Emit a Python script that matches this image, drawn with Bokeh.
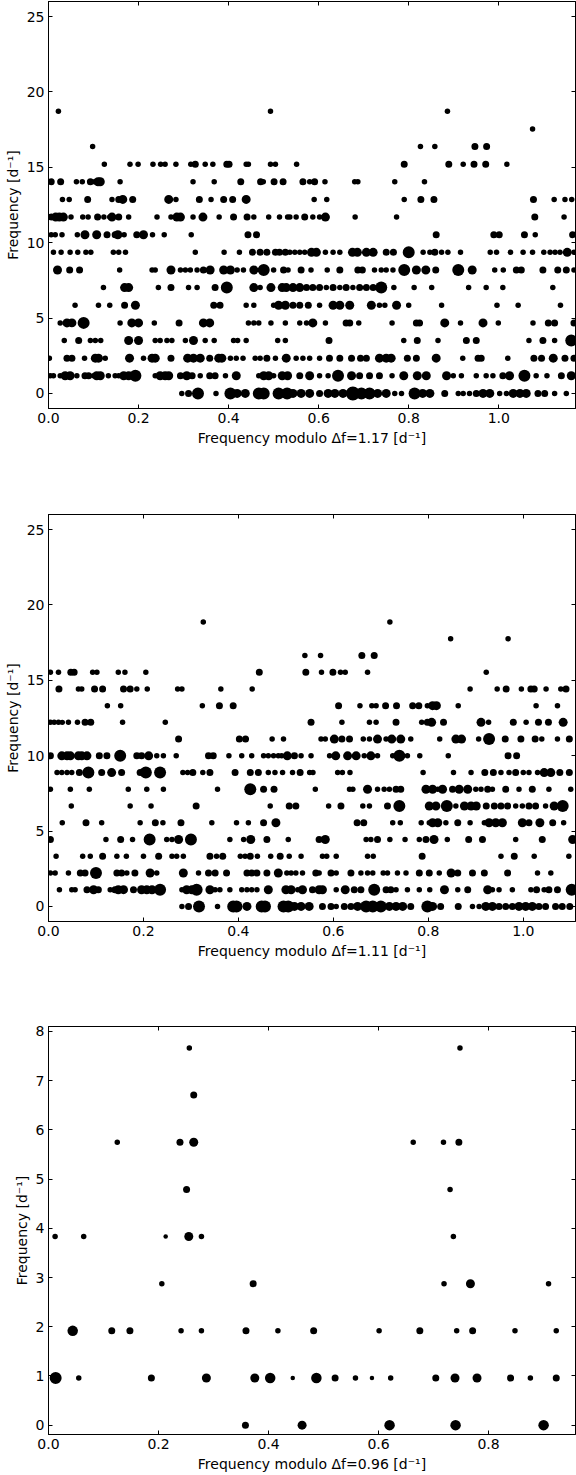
from bokeh.plotting import figure
from bokeh.models import ColumnDataSource, LinearAxis, FixedTicker, PrintfTickFormatter, Range1d
from bokeh.layouts import column
from bokeh.embed import file_html
from bokeh.resources import INLINE

# ---------------- data ----------------
# Each row k holds (frequency modulo dF, relative amplitude class) pairs; row frequency = k * dF
DF1, DF2, DF3 = 1.17, 1.11, 0.958

p1_k0 = [(0.296,1),(0.311,2),(0.332,4),(0.372,1),(0.404,4),(0.419,3),(0.437,3),(0.467,4),(0.478,4),(0.511,4),(0.530,4),(0.543,3),(0.561,3),(0.580,3),(0.602,2),(0.621,3),(0.636,3),(0.654,3),(0.676,5),(0.695,4),(0.713,4),(0.731,3),(0.750,3),(0.769,1),(0.784,1),(0.813,4),(0.831,3),(0.847,3),(0.880,2),(0.910,1),(0.921,1),(0.935,1),(0.950,2),(0.965,3),(0.980,3),(1.002,1),(1.017,1),(1.032,3),(1.047,3),(1.061,3),(1.087,2),(1.102,2),(1.124,1),(1.150,1)]
p1_k1 = [(0.004,1),(0.011,1),(0.026,1),(0.037,3),(0.048,3),(0.063,1),(0.081,2),(0.089,2),(0.100,1),(0.107,3),(0.115,3),(0.133,1),(0.148,1),(0.156,1),(0.167,3),(0.178,3),(0.193,4),(0.237,1),(0.248,3),(0.259,3),(0.267,3),(0.293,2),(0.307,3),(0.319,2),(0.337,1),(0.358,2),(0.370,2),(0.393,1),(0.417,3),(0.467,1),(0.478,3),(0.489,3),(0.500,1),(0.519,3),(0.531,3),(0.558,2),(0.580,3),(0.602,1),(0.621,1),(0.643,4),(0.673,3),(0.691,2),(0.713,2),(0.735,2),(0.763,1),(0.789,3),(0.819,3),(0.839,3),(0.884,3),(0.899,1),(0.917,1),(0.950,1),(0.972,1),(0.987,1),(1.009,2),(1.024,3),(1.057,4),(1.083,1),(1.107,1),(1.139,2),(1.161,3)]
p1_k2 = [(0.002,1),(0.041,2),(0.052,2),(0.080,1),(0.104,3),(0.111,3),(0.126,1),(0.180,3),(0.211,1),(0.230,3),(0.237,3),(0.272,2),(0.309,3),(0.322,3),(0.337,3),(0.358,2),(0.378,3),(0.385,3),(0.404,1),(0.417,1),(0.432,1),(0.459,1),(0.470,1),(0.485,2),(0.504,1),(0.528,3),(0.550,1),(0.565,1),(0.580,1),(0.602,1),(0.624,2),(0.647,2),(0.673,2),(0.693,2),(0.706,2),(0.735,3),(0.750,3),(0.761,3),(0.797,2),(0.817,2),(0.861,3),(0.920,1),(0.954,2),(0.961,2),(1.020,1),(1.078,2),(1.095,2),(1.121,3),(1.147,2),(1.167,2)]
p1_k3 = [(0.035,1),(0.067,2),(0.093,1),(0.104,1),(0.116,1),(0.178,3),(0.200,3),(0.237,1),(0.248,1),(0.263,1),(0.274,1),(0.304,1),(0.322,3),(0.348,1),(0.368,1),(0.411,1),(0.420,1),(0.439,1),(0.509,1),(0.526,1),(0.623,2),(0.789,1),(0.819,2),(0.865,1),(0.928,2),(0.950,2),(1.067,1),(1.098,2),(1.124,1),(1.161,4)]
p1_k4 = [(0.026,1),(0.041,3),(0.052,3),(0.078,4),(0.159,1),(0.185,3),(0.200,3),(0.235,1),(0.290,2),(0.344,3),(0.358,3),(0.444,1),(0.456,1),(0.467,1),(0.494,1),(0.526,1),(0.558,1),(0.573,1),(0.587,3),(0.615,1),(0.661,2),(0.669,2),(0.689,1),(0.763,1),(0.817,2),(0.824,2),(0.880,3),(0.915,1),(0.965,3),(0.999,1),(1.076,1),(1.110,2),(1.124,2),(1.167,2)]
p1_k5 = [(0.059,1),(0.111,1),(0.136,1),(0.169,2),(0.193,3),(0.367,2),(0.381,2),(0.439,1),(0.456,1),(0.500,1),(0.511,3),(0.526,3),(0.543,2),(0.558,2),(0.577,2),(0.602,1),(0.632,3),(0.647,3),(0.669,3),(0.717,3),(0.735,1),(0.747,1),(0.773,3),(0.800,1),(0.873,1),(0.996,1),(1.043,1),(1.137,1)]
p1_k6 = [(0.122,1),(0.169,3),(0.178,3),(0.244,1),(0.272,2),(0.311,1),(0.330,1),(0.370,2),(0.396,4),(0.456,3),(0.470,1),(0.494,3),(0.519,3),(0.528,3),(0.543,3),(0.558,3),(0.573,2),(0.587,2),(0.602,2),(0.617,1),(0.632,2),(0.647,1),(0.661,2),(0.676,1),(0.691,2),(0.706,2),(0.721,2),(0.739,4),(0.767,1),(0.812,1),(0.851,1),(0.933,1),(0.972,1),(1.009,1),(1.120,1)]
p1_k7 = [(0.020,3),(0.047,2),(0.069,2),(0.158,1),(0.230,1),(0.237,1),(0.272,3),(0.293,1),(0.304,1),(0.315,1),(0.330,1),(0.344,2),(0.359,3),(0.389,3),(0.404,3),(0.419,1),(0.433,1),(0.456,3),(0.478,4),(0.500,1),(0.522,2),(0.532,1),(0.561,2),(0.583,1),(0.619,1),(0.647,2),(0.687,2),(0.697,2),(0.724,1),(0.739,1),(0.750,1),(0.765,1),(0.790,4),(0.817,3),(0.838,3),(0.860,2),(0.910,4),(0.941,3),(0.991,1),(1.010,1),(1.039,2),(1.050,2),(1.098,2),(1.131,2),(1.150,2),(1.167,1)]
p1_k8 = [(0.011,1),(0.028,1),(0.048,1),(0.065,1),(0.083,1),(0.094,1),(0.144,1),(0.156,1),(0.171,1),(0.326,1),(0.390,1),(0.424,1),(0.453,2),(0.470,2),(0.485,2),(0.504,2),(0.513,2),(0.526,2),(0.536,1),(0.547,1),(0.558,1),(0.569,1),(0.584,3),(0.595,3),(0.615,1),(0.632,1),(0.647,1),(0.675,3),(0.686,3),(0.706,3),(0.721,3),(0.750,2),(0.766,2),(0.800,4),(0.832,1),(0.847,1),(0.858,2),(0.873,1),(0.887,1),(0.915,1),(0.981,1),(0.995,1),(1.026,1),(1.054,1),(1.075,1),(1.100,1),(1.114,1),(1.125,1),(1.136,1),(1.152,3),(1.167,1)]
p1_k9 = [(0.006,1),(0.015,1),(0.030,1),(0.064,1),(0.081,3),(0.107,3),(0.130,2),(0.148,2),(0.154,3),(0.168,1),(0.196,2),(0.211,3),(0.231,1),(0.257,1),(0.317,1),(0.443,2),(0.462,2),(0.861,2),(0.989,2),(1.001,2),(1.057,2),(1.081,1),(1.164,2)]
p1_k10 = [(0.006,2),(0.016,3),(0.024,3),(0.033,3),(0.050,1),(0.076,1),(0.088,1),(0.109,2),(0.123,1),(0.136,1),(0.141,3),(0.156,2),(0.178,1),(0.241,1),(0.272,1),(0.285,3),(0.293,3),(0.321,1),(0.343,3),(0.379,1),(0.411,2),(0.441,2),(0.456,1),(0.489,1),(0.513,1),(0.531,1),(0.536,1),(0.550,1),(0.569,2),(0.587,1),(0.602,1),(0.615,3),(0.681,1),(0.773,1),(1.080,2),(1.145,1)]
p1_k11 = [(0.031,1),(0.046,1),(0.087,2),(0.141,1),(0.156,2),(0.165,3),(0.187,2),(0.267,3),(0.283,1),(0.335,2),(0.361,1),(0.389,2),(0.409,2),(0.439,3),(0.590,1),(0.618,1),(0.790,1),(0.827,2),(0.856,2),(1.077,2),(1.123,1),(1.147,1),(1.162,1)]
p1_k12 = [(0.006,2),(0.027,2),(0.062,1),(0.075,1),(0.093,2),(0.102,1),(0.110,3),(0.115,3),(0.159,1),(0.321,1),(0.368,1),(0.427,2),(0.471,2),(0.477,1),(0.501,2),(0.521,2),(0.565,2),(0.580,1),(0.591,2),(0.614,1),(0.680,1),(0.687,1),(0.769,1),(0.835,1)]
p1_k13 = [(0.124,1),(0.181,1),(0.199,1),(0.232,1),(0.249,1),(0.259,1),(0.283,1),(0.316,1),(0.326,2),(0.348,1),(0.365,1),(0.396,2),(0.401,2),(0.439,1),(0.444,1),(0.493,1),(0.504,1),(0.551,1),(0.790,2),(0.889,2),(0.921,1),(0.945,2),(0.971,2),(1.018,1)]
p1_k14 = [(0.098,1),(0.826,1),(0.858,1),(0.947,2),(0.973,2)]
p1_k15 = [(1.075,1)]
p1_k16 = [(0.022,1),(0.493,1),(0.886,1)]

p2_k0 = [(0.281,1),(0.295,2),(0.317,4),(0.356,1),(0.389,4),(0.396,4),(0.418,3),(0.449,4),(0.456,4),(0.495,4),(0.505,4),(0.518,3),(0.532,3),(0.549,3),(0.577,2),(0.595,2),(0.606,1),(0.623,2),(0.637,2),(0.651,3),(0.669,4),(0.683,4),(0.700,4),(0.718,3),(0.732,3),(0.746,3),(0.763,2),(0.798,4),(0.809,3),(0.826,2),(0.863,2),(0.893,1),(0.907,1),(0.921,3),(0.935,3),(0.949,2),(0.963,2),(0.977,2),(0.991,3),(1.005,3),(1.019,3),(1.033,2),(1.047,2),(1.068,2),(1.082,2),(1.098,2)]
p2_k1 = [(0.023,1),(0.049,1),(0.056,1),(0.081,2),(0.095,3),(0.105,2),(0.130,1),(0.140,2),(0.147,3),(0.158,3),(0.179,2),(0.196,3),(0.207,3),(0.218,3),(0.235,4),(0.281,1),(0.291,3),(0.302,3),(0.312,4),(0.340,3),(0.351,1),(0.361,1),(0.382,1),(0.407,1),(0.418,1),(0.428,1),(0.439,1),(0.463,3),(0.500,3),(0.511,3),(0.525,1),(0.535,3),(0.556,2),(0.570,3),(0.577,3),(0.606,1),(0.625,3),(0.644,2),(0.658,2),(0.686,4),(0.711,2),(0.721,2),(0.732,1),(0.756,1),(0.781,1),(0.803,1),(0.834,3),(0.862,1),(0.883,2),(0.925,3),(0.935,1),(0.949,1),(0.977,1),(1.016,1),(1.028,2),(1.044,1),(1.054,2),(1.072,2),(1.102,4)]
p2_k2 = [(0.004,1),(0.014,1),(0.042,1),(0.067,2),(0.077,2),(0.100,4),(0.144,2),(0.154,2),(0.165,1),(0.182,2),(0.214,3),(0.228,1),(0.284,3),(0.316,1),(0.337,2),(0.351,2),(0.375,2),(0.418,2),(0.428,2),(0.439,2),(0.460,2),(0.484,3),(0.502,1),(0.511,1),(0.521,1),(0.535,1),(0.563,2),(0.570,1),(0.595,2),(0.606,1),(0.637,2),(0.658,1),(0.672,1),(0.683,1),(0.705,1),(0.714,1),(0.735,1),(0.753,1),(0.781,2),(0.802,2),(0.823,1),(0.848,3),(0.862,2),(0.893,2),(0.918,2),(0.967,2),(1.030,1),(1.058,1)]
p2_k3 = [(0.016,1),(0.072,1),(0.088,1),(0.114,2),(0.144,1),(0.164,1),(0.200,1),(0.232,2),(0.260,1),(0.270,1),(0.284,1),(0.340,2),(0.354,1),(0.367,2),(0.404,1),(0.414,1),(0.425,2),(0.440,1),(0.468,1),(0.488,2),(0.507,1),(0.532,1),(0.577,1),(0.586,1),(0.606,1),(0.672,1),(0.684,1),(0.787,2),(0.953,1),(0.981,2),(1.023,1),(1.096,1)]
p2_k4 = [(0.004,2),(0.121,1),(0.152,2),(0.177,1),(0.213,4),(0.249,1),(0.260,1),(0.274,3),(0.300,4),(0.382,1),(0.411,1),(0.426,3),(0.460,2),(0.505,1),(0.570,2),(0.583,3),(0.669,1),(0.679,1),(0.693,2),(0.719,1),(0.751,1),(0.781,1),(0.795,2),(0.812,3),(0.840,1),(0.885,2),(0.914,2),(0.984,1),(1.040,2),(1.104,3)]
p2_k5 = [(0.029,1),(0.079,2),(0.112,1),(0.193,1),(0.225,2),(0.241,1),(0.279,2),(0.344,1),(0.396,1),(0.421,1),(0.453,2),(0.479,3),(0.650,2),(0.664,2),(0.725,1),(0.741,1),(0.785,1),(0.802,1),(0.809,3),(0.820,3),(0.837,1),(0.862,2),(0.888,1),(0.918,1),(0.928,3),(0.942,3),(0.956,3),(0.998,3),(1.012,2),(1.035,3),(1.062,2),(1.085,1)]
p2_k6 = [(0.048,1),(0.172,1),(0.216,1),(0.311,2),(0.467,1),(0.507,2),(0.521,2),(0.590,1),(0.616,2),(0.662,1),(0.676,1),(0.714,2),(0.739,4),(0.802,3),(0.816,3),(0.839,4),(0.858,1),(0.876,3),(0.890,3),(0.901,3),(0.922,2),(0.939,2),(0.953,2),(0.967,2),(0.984,1),(0.998,1),(1.012,2),(1.026,2),(1.047,1),(1.065,3),(1.083,4)]
p2_k7 = [(0.004,1),(0.046,1),(0.086,1),(0.168,1),(0.207,1),(0.242,1),(0.356,1),(0.425,4),(0.453,2),(0.475,2),(0.562,1),(0.634,1),(0.641,1),(0.672,3),(0.693,1),(0.707,1),(0.718,1),(0.732,2),(0.742,2),(0.795,3),(0.809,3),(0.820,1),(0.830,3),(0.851,2),(0.865,3),(0.883,3),(0.900,1),(0.911,1),(0.925,2),(0.935,1),(0.963,2),(0.991,1),(1.019,2),(1.054,1),(1.100,1)]
p2_k8 = [(0.018,1),(0.028,1),(0.039,1),(0.049,1),(0.065,2),(0.084,4),(0.112,2),(0.133,3),(0.154,2),(0.193,2),(0.205,4),(0.235,4),(0.283,1),(0.293,1),(0.304,2),(0.325,1),(0.340,2),(0.393,2),(0.425,2),(0.442,2),(0.463,1),(0.477,1),(0.493,1),(0.514,1),(0.530,2),(0.550,1),(0.557,1),(0.609,1),(0.619,1),(0.635,1),(0.789,1),(0.853,1),(0.890,1),(0.919,2),(0.937,2),(0.953,1),(0.970,1),(0.984,2),(1.000,1),(1.012,1),(1.030,1),(1.044,3),(1.058,3),(1.077,2),(1.097,2)]
p2_k9 = [(0.004,2),(0.028,3),(0.039,3),(0.046,3),(0.063,3),(0.070,3),(0.081,3),(0.107,2),(0.123,2),(0.151,4),(0.186,2),(0.196,2),(0.211,3),(0.228,1),(0.242,1),(0.269,1),(0.337,2),(0.347,2),(0.380,1),(0.407,1),(0.428,1),(0.453,1),(0.463,1),(0.474,1),(0.484,1),(0.491,1),(0.503,3),(0.518,2),(0.532,1),(0.553,1),(0.592,1),(0.605,3),(0.630,3),(0.648,3),(0.665,1),(0.679,3),(0.693,1),(0.725,1),(0.739,4),(0.756,1),(0.782,1),(0.842,1),(0.968,2),(0.986,2)]
p2_k10 = [(0.274,2),(0.402,2),(0.415,2),(0.471,1),(0.495,1),(0.574,1),(0.583,1),(0.602,3),(0.618,2),(0.634,2),(0.663,1),(0.676,1),(0.693,3),(0.711,1),(0.723,3),(0.742,3),(0.763,1),(0.824,1),(0.858,3),(0.870,3),(0.906,1),(0.928,4),(0.962,2),(0.995,2),(1.025,2),(1.039,1),(1.072,1),(1.097,2)]
p2_k11 = [(0.004,1),(0.012,1),(0.021,1),(0.029,1),(0.042,1),(0.061,1),(0.077,2),(0.089,2),(0.156,1),(0.246,1),(0.553,2),(0.618,1),(0.676,1),(0.690,1),(0.732,2),(0.786,1),(0.798,2),(0.807,3),(0.832,2),(0.911,3),(0.927,1),(0.979,2),(1.006,1),(1.032,2),(1.053,2),(1.084,3)]
p2_k12 = [(0.124,1),(0.152,1),(0.324,1),(0.360,2),(0.389,2),(0.611,2),(0.656,1),(0.681,1),(0.690,1),(0.710,2),(0.733,2),(0.767,2),(0.780,2),(0.798,1),(0.809,3),(0.817,3),(0.863,1),(1.027,1),(1.072,1)]
p2_k13 = [(0.022,2),(0.063,1),(0.070,1),(0.097,2),(0.114,2),(0.158,2),(0.172,2),(0.186,1),(0.208,1),(0.272,1),(0.281,1),(0.363,1),(0.429,1),(0.888,1),(0.945,1),(0.964,2),(0.996,1),(1.016,2),(1.023,2),(1.048,1),(1.079,1),(1.090,2)]
p2_k14 = [(0.004,1),(0.021,1),(0.047,2),(0.054,2),(0.093,1),(0.102,1),(0.147,1),(0.161,1),(0.205,1),(0.444,2),(0.542,2),(0.575,1),(0.599,2),(0.615,1),(0.625,1),(0.672,1),(0.922,1)]
p2_k15 = [(0.540,1),(0.573,1),(0.660,2),(0.686,2)]
p2_k16 = [(0.847,1),(0.968,1)]
p2_k17 = [(0.326,1),(0.719,1)]

p3_k0 = [(0.358,3),(0.461,4),(0.620,5),(0.740,5),(0.900,5)]
p3_k1 = [(0.013,6),(0.055,2),(0.187,3),(0.287,4),(0.375,4),(0.403,5),(0.444,1),(0.487,5),(0.521,3),(0.558,2),(0.588,1),(0.622,2),(0.704,3),(0.739,4),(0.779,4),(0.840,3),(0.876,2),(0.923,3)]
p3_k2 = [(0.044,5),(0.115,3),(0.148,3),(0.241,2),(0.278,2),(0.359,3),(0.417,2),(0.482,3),(0.601,2),(0.675,3),(0.742,2),(0.771,3),(0.848,2),(0.923,2)]
p3_k3 = [(0.206,2),(0.372,3),(0.719,2),(0.767,4),(0.909,2)]
p3_k4 = [(0.012,2),(0.064,2),(0.213,1),(0.255,4),(0.278,2),(0.736,2)]
p3_k5 = [(0.251,3),(0.730,2)]
p3_k6 = [(0.125,2),(0.239,3),(0.264,4),(0.663,2),(0.718,2),(0.746,3)]
p3_k7 = [(0.264,3)]
p3_k8 = [(0.256,2),(0.748,2)]

ROWS1 = [p1_k0, p1_k1, p1_k2, p1_k3, p1_k4, p1_k5, p1_k6, p1_k7, p1_k8, p1_k9,
         p1_k10, p1_k11, p1_k12, p1_k13, p1_k14, p1_k15, p1_k16]
ROWS2 = [p2_k0, p2_k1, p2_k2, p2_k3, p2_k4, p2_k5, p2_k6, p2_k7, p2_k8, p2_k9,
         p2_k10, p2_k11, p2_k12, p2_k13, p2_k14, p2_k15, p2_k16, p2_k17]
ROWS3 = [p3_k0, p3_k1, p3_k2, p3_k3, p3_k4, p3_k5, p3_k6, p3_k7, p3_k8]

XTICKS12 = [0.0, 0.2, 0.4, 0.6, 0.8, 1.0]
XTICKS3 = [0.0, 0.2, 0.4, 0.6, 0.8]
YTICKS12 = [0, 5, 10, 15, 20, 25]
YTICKS3 = [0, 1, 2, 3, 4, 5, 6, 7, 8]

# ---------------- styling ----------------
FONT = "DejaVu Sans"
FS = "14px"
SIZE12 = {1: 5.5, 2: 7.0, 3: 9.0, 4: 12.0, 5: 14.0}
SIZE3 = {1: 4.5, 2: 5.5, 3: 7.0, 4: 9.0, 5: 10.5, 6: 12.0}


def style_axis(ax, ticks, fmt, show_labels=True):
    ax.ticker = FixedTicker(ticks=ticks)
    ax.formatter = PrintfTickFormatter(format=fmt)
    ax.major_tick_in = 4
    ax.major_tick_out = 0
    ax.minor_tick_line_color = None
    ax.major_tick_line_color = "black"
    ax.axis_line_color = "black"
    ax.major_label_text_font = FONT
    ax.major_label_text_color = "black"
    ax.axis_label_text_font = FONT
    ax.axis_label_text_font_size = FS
    ax.axis_label_text_font_style = "normal"
    ax.axis_label_text_color = "black"
    if show_labels:
        ax.major_label_text_font_size = FS
        ax.major_label_standoff = 4
    else:
        ax.major_label_text_font_size = "0px"
        ax.major_label_text_color = None
        ax.major_label_standoff = 0


def make_panel(rows, dF, smap, xmax, yr, xticks, yticks, height, top_b, bottom_b):
    xs, ys, ss = [], [], []
    for k, row in enumerate(rows):
        for (fx, amp) in row:
            xs.append(fx)
            ys.append(k * dF)
            ss.append(smap[amp])
    src = ColumnDataSource(data=dict(x=xs, y=ys, s=ss))
    p = figure(width=576, height=height, x_range=Range1d(0, xmax), y_range=Range1d(*yr),
               output_backend="svg", toolbar_location=None,
               min_border_left=48, min_border_right=1, min_border_top=top_b,
               min_border_bottom=bottom_b)
    p.grid.visible = False
    p.outline_line_color = "black"
    p.outline_line_width = 1
    p.background_fill_color = "white"
    p.border_fill_color = "white"
    style_axis(p.xaxis[0], xticks, "%.1f")
    style_axis(p.yaxis[0], yticks, "%d")
    p.xaxis[0].axis_label = "Frequency modulo Δf=%.2f [d⁻¹]" % dF
    p.xaxis[0].axis_label_standoff = 4
    p.yaxis[0].axis_label = "Frequency [d⁻¹]"
    p.yaxis[0].axis_label_standoff = 3
    top = LinearAxis()
    style_axis(top, xticks, "%.1f", show_labels=False)
    p.add_layout(top, "above")
    right = LinearAxis()
    style_axis(right, yticks, "%d", show_labels=False)
    p.add_layout(right, "right")
    p.scatter(x="x", y="y", size="s", source=src, fill_color="black", line_color=None)
    return p


p1 = make_panel(ROWS1, DF1, SIZE12, 1.1704, (-1, 26), XTICKS12, YTICKS12, 513, 1, 105)
p2 = make_panel(ROWS2, DF2, SIZE12, 1.11, (-1, 26), XTICKS12, YTICKS12, 505, 1, 97)
p3 = make_panel(ROWS3, DF3, SIZE3, 0.958, (-0.19, 8.1), XTICKS3, YTICKS3, 457, 8, 41)

layout = column(p1, p2, p3)
open("out.html", "w").write(file_html(layout, INLINE))
